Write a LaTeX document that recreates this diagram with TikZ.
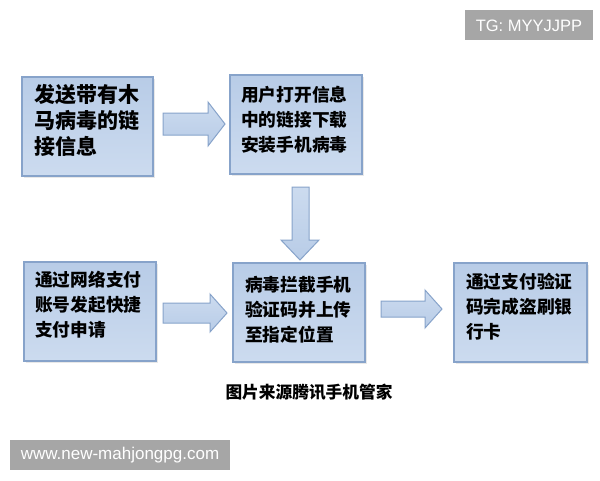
\documentclass[tikz,border=0pt]{standalone}
\usepackage{fontspec}
\newfontfamily\cjk{Noto Sans CJK SC}
\setmainfont{Liberation Sans}
\usetikzlibrary{calc,shadows}
\definecolor{boxtop}{HTML}{B8CCE7}
\definecolor{boxbot}{HTML}{CCDBEF}
\definecolor{boxline}{HTML}{87A3CA}
\definecolor{wmgray}{HTML}{A6A6A6}
\tikzset{
  blk/.style={draw=boxline, line width=1.4pt, top color=boxtop, bottom color=boxbot,
    drop shadow={opacity=0.18, shadow xshift=1.5pt, shadow yshift=-1.5pt}},
  blkarrow/.style={draw=boxline, line width=1pt, top color=boxbot, bottom color=boxtop, line join=miter},
  boxtxt/.style={anchor=north west, inner sep=0pt, align=left,
    font={\cjk\bfseries\fontsize{17.7}{25}\selectfont}},
  bigtxt/.style={boxtxt, font={\cjk\bfseries\fontsize{21}{26}\selectfont}},
  wm/.style={fill=wmgray, text=white, inner sep=0pt}
}
\begin{document}
\begin{tikzpicture}[x=1pt,y=-1pt]
\useasboundingbox (0,0) rectangle (600,480);
\fill[white] (0,0) rectangle (600,480);
% boxes
\path[blk] (22,77) rectangle (153,176) coordinate (b1se);
\node[inner sep=0, minimum size=0] (b1) at (87.5,126.5) {};
\path[blk] (230,75) rectangle (362,174);
\node[inner sep=0] (b2) at (296,124.5) {};
\path[blk] (24,262) rectangle (156,361);
\node[inner sep=0] (b3) at (90,311.5) {};
\path[blk] (233,263) rectangle (365,362);
\node[inner sep=0] (b4) at (299,312.5) {};
\path[blk] (454,263) rectangle (587,362);
\node[inner sep=0] (b5) at (520.5,312.5) {};
% texts
\node[bigtxt] (t1) at (34,84) {发送带有木\\马病毒的链\\接信息};
\node[boxtxt] (t2) at (241,86) {用户打开信息\\中的链接下载\\安装手机病毒};
\node[boxtxt] (t3) at (35,271) {通过网络支付\\账号发起快捷\\支付申请};
\node[boxtxt] (t4) at (245,276) {病毒拦截手机\\验证码并上传\\至指定位置};
\node[boxtxt] (t5) at (466,273) {通过支付验证\\码完成盗刷银\\行卡};
% block arrows
\path[blkarrow] (163,113) -- (208,113) -- (208,102) -- (225,124) -- (208,146) -- (208,135) -- (163,135) -- cycle;
\path[blkarrow] (163,303) -- (210,303) -- (210,294) -- (227,313) -- (210,332) -- (210,323) -- (163,323) -- cycle;
\path[blkarrow] (381,301) -- (425,301) -- (425,290) -- (442,309) -- (425,328) -- (425,317) -- (381,317) -- cycle;
\path[blkarrow] (292,187) -- (309,187) -- (309,240) -- (319,240) -- (300,260) -- (281,240) -- (292,240) -- cycle;
% caption
\node[font={\cjk\bfseries\fontsize{16.7}{18}\selectfont}, inner sep=0] (cap) at (309,392) {图片来源腾讯手机管家};
% watermarks
\path[fill=wmgray] (465,10) rectangle (593,40);
\node[text=white, inner sep=0, font={\fontsize{16.5}{18}\selectfont}] (tg) at (529,25.5) {TG: MYYJJPP};
\path[fill=wmgray] (10,440) rectangle (230,470);
\node[text=white, inner sep=0, font={\fontsize{17}{19}\selectfont}] (www) at (120,455.5) {www.new-mahjongpg.com};
\end{tikzpicture}
\end{document}
